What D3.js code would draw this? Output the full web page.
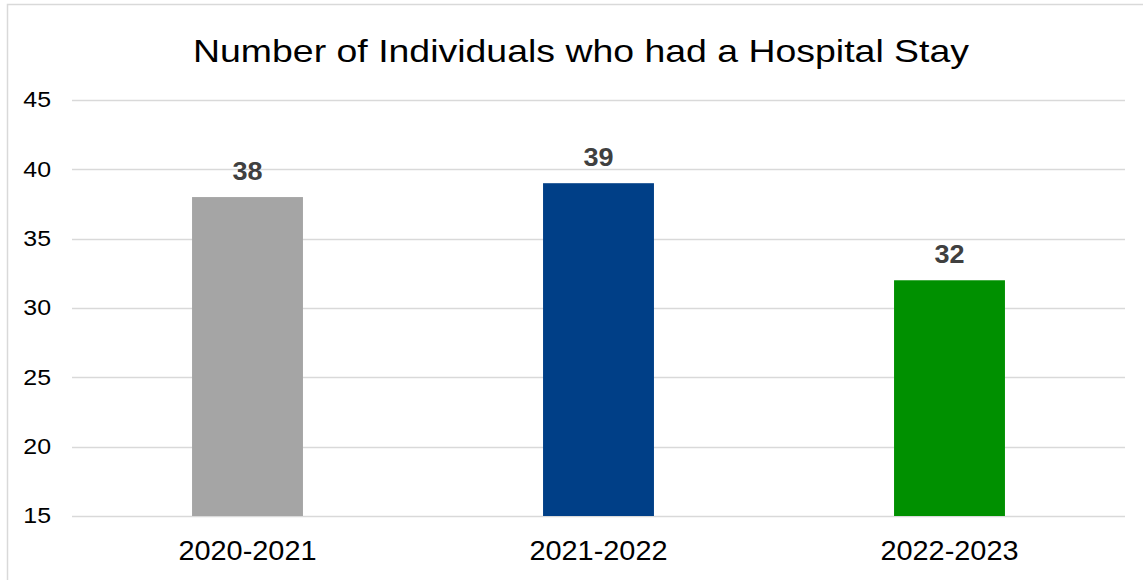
<!DOCTYPE html>
<html>
<head>
<meta charset="utf-8">
<script src="https://cdn.jsdelivr.net/npm/d3@7"></script>
<style>
  html, body { margin: 0; padding: 0; background: #fff; }
  svg { display: block; font-family: "Liberation Sans", Arial, sans-serif; }
</style>
</head>
<body>
<svg id="chart" width="1143" height="580"></svg>
<script>
// Hospital stay counts by fiscal year
const categories = ["2020-2021", "2021-2022", "2022-2023"];
const values = [38, 39, 32];
const barColors = ["#a5a5a5", "#003f87", "#009000"];
const yTicks = [15, 20, 25, 30, 35, 40, 45];
const titleText = "Number of Individuals who had a Hospital Stay";

const svg = d3.select("#chart");
const W = 1143, H = 580;
const plot = { left: 72, right: 1125, top: 100, bottom: 516 };
// text in this layout is drawn slightly wide
const wide = { title: 1.17, yTick: 1.17, value: 1.08, xTick: 1.07 };

// outer chart frame
svg.append("rect")
  .attr("x", 7.5).attr("y", 4.5)
  .attr("width", W + 20).attr("height", H + 20)
  .attr("fill", "#fff")
  .attr("stroke", "#d9d9d9").attr("stroke-width", 1.5);

const x = d3.scaleBand()
  .domain(categories)
  .range([plot.left, plot.right])
  .paddingInner(0.684).paddingOuter(0.342);

const y = d3.scaleLinear()
  .domain([15, 45])
  .range([plot.bottom, plot.top]);

// horizontal gridlines
svg.append("g")
  .selectAll("line")
  .data(yTicks)
  .join("line")
  .attr("x1", plot.left).attr("x2", plot.right)
  .attr("y1", d => Math.round(y(d)) + 0.5)
  .attr("y2", d => Math.round(y(d)) + 0.5)
  .attr("stroke", "#d9d9d9").attr("stroke-width", 1.5);

// y-axis tick labels
const yAxis = d3.axisLeft(y).tickValues(yTicks).tickSize(0).tickPadding(0);
const gy = svg.append("g")
  .attr("transform", `translate(${plot.left - 21},0)`)
  .call(yAxis);
gy.select(".domain").remove();
gy.selectAll("text")
  .attr("x", 0)
  .attr("transform", `scale(${wide.yTick},1)`)
  .attr("font-size", "21.3px")
  .attr("fill", "#000")
  .attr("font-family", "Liberation Sans, Arial, sans-serif");

// bars
svg.append("g")
  .selectAll("rect")
  .data(values)
  .join("rect")
  .attr("x", (d, i) => x(categories[i]))
  .attr("width", x.bandwidth())
  .attr("y", d => y(d))
  .attr("height", d => plot.bottom - y(d))
  .attr("fill", (d, i) => barColors[i]);

// value labels
svg.append("g")
  .selectAll("text")
  .data(values)
  .join("text")
  .attr("transform", (d, i) =>
    `translate(${x(categories[i]) + x.bandwidth() / 2},${y(d) - 17}) scale(${wide.value},1)`)
  .attr("text-anchor", "middle")
  .attr("font-size", "25px")
  .attr("font-weight", "bold")
  .attr("fill", "#404040")
  .text(d => d);

// x-axis category labels
const xAxis = d3.axisBottom(x).tickSize(0).tickPadding(25);
const gx = svg.append("g")
  .attr("transform", `translate(0,${plot.bottom})`)
  .call(xAxis);
gx.select(".domain").remove();
gx.selectAll("text")
  .attr("transform", `scale(${wide.xTick},1)`)
  .attr("font-size", "27px")
  .attr("fill", "#000")
  .attr("font-family", "Liberation Sans, Arial, sans-serif");

// title
svg.append("text")
  .attr("transform", `translate(581,62) scale(${wide.title},1)`)
  .attr("text-anchor", "middle")
  .attr("font-size", "32px")
  .attr("fill", "#000")
  .text(titleText);
</script>
</body>
</html>
